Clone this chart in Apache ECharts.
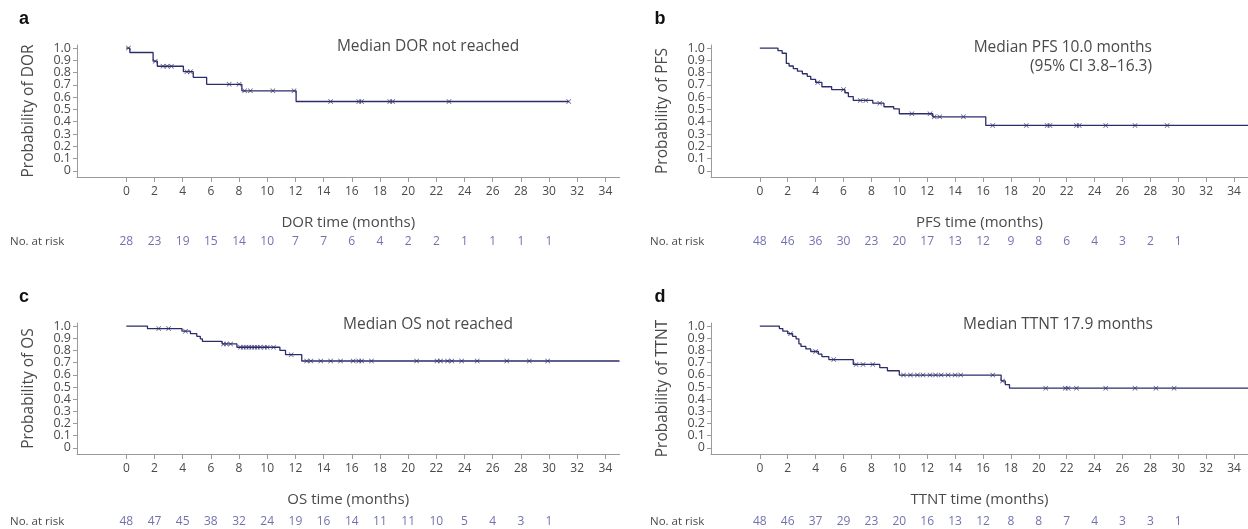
<!DOCTYPE html>
<html>
<head>
<meta charset="utf-8">
<script src="https://cdn.jsdelivr.net/npm/echarts@6/dist/echarts.min.js"></script>
<style>
  html, body { margin: 0; padding: 0; background: #fff; }
  #chart { width: 1248px; height: 529px; }
</style>
</head>
<body>
<div id="chart"></div>
<script>
// --- data ---
const xTicks = [0, 2, 4, 6, 8, 10, 12, 14, 16, 18, 20, 22, 24, 26, 28, 30, 32, 34];
const yTicks = [0, 0.1, 0.2, 0.3, 0.4, 0.5, 0.6, 0.7, 0.8, 0.9, 1.0];
const yLabelsEven = [0, 0.2, 0.4, 0.6, 0.8, 1.0];
const yLabelsOdd = [0.1, 0.3, 0.5, 0.7, 0.9];
const riskTimes = [0, 2, 4, 6, 8, 10, 12, 14, 16, 18, 20, 22, 24, 26, 28, 30];

// a: duration of response
const dorT = [0, 0.25, 1.9, 2.2, 4.05, 4.75, 5.7, 8.2, 12.05, 31.4];
const dorS = [1.0, 0.964, 0.893, 0.852, 0.808, 0.762, 0.705, 0.652, 0.565, 0.565];
const dorCensor = [0.15, 2.05, 2.6, 2.9, 3.2, 4.3, 4.55, 7.3, 8.0, 8.4, 8.8, 10.4, 11.9, 14.5, 16.5, 16.7, 18.7, 18.9, 22.9, 31.4];
const dorRisk = [28, 23, 19, 15, 14, 10, 7, 7, 6, 4, 2, 2, 1, 1, 1, 1];

// b: progression-free survival
const pfsT = [0, 1.3, 1.6, 1.9, 2.1, 2.4, 2.7, 3.05, 3.4, 3.65, 4.0, 4.45, 5.15, 6.1, 6.35, 6.7, 8.1, 8.9, 9.6, 10.0, 12.4, 16.2, 35];
const pfsS = [1.0, 0.979, 0.958, 0.875, 0.854, 0.833, 0.812, 0.791, 0.77, 0.745, 0.72, 0.685, 0.662, 0.636, 0.604, 0.574, 0.551, 0.522, 0.505, 0.465, 0.44, 0.37, 0.37];
const pfsCensor = [4.15, 6.0, 7.2, 7.6, 8.6, 10.9, 12.2, 12.5, 12.9, 14.6, 16.7, 19.1, 20.6, 20.8, 22.7, 22.9, 24.8, 26.9, 29.2];
const pfsRisk = [48, 46, 36, 30, 23, 20, 17, 13, 12, 9, 8, 6, 4, 3, 2, 1];

// c: overall survival
const osT = [0, 1.5, 3.95, 4.55, 5.0, 5.25, 5.4, 6.8, 7.85, 10.9, 11.3, 12.45, 35];
const osS = [1.0, 0.979, 0.958, 0.937, 0.916, 0.895, 0.874, 0.853, 0.826, 0.80, 0.765, 0.713, 0.713];
const osCensor = [2.3, 3.0, 4.2, 6.9, 7.1, 7.4, 8.1, 8.3, 8.5, 8.7, 8.9, 9.1, 9.3, 9.5, 9.8, 10.0, 10.45, 11.7, 12.8, 13.1, 13.8, 14.5, 15.2, 16.1, 16.5, 16.7, 17.4, 20.6, 22.05, 22.3, 22.8, 23.1, 23.8, 24.9, 27.0, 28.6, 29.9];
const osRisk = [48, 47, 45, 38, 32, 24, 19, 16, 14, 11, 11, 10, 5, 4, 3, 1];

// d: time to next treatment
const ttntT = [0, 1.4, 1.65, 2.0, 2.35, 2.6, 2.8, 2.95, 3.3, 3.65, 4.2, 4.45, 4.95, 6.7, 8.6, 9.15, 10.0, 17.3, 17.6, 17.9, 35];
const ttntS = [1.0, 0.979, 0.958, 0.937, 0.916, 0.895, 0.854, 0.833, 0.812, 0.791, 0.77, 0.749, 0.725, 0.685, 0.658, 0.633, 0.598, 0.55, 0.52, 0.49, 0.49];
const ttntCensor = [2.2, 4.0, 5.3, 6.9, 7.4, 8.1, 10.3, 10.8, 11.3, 11.7, 12.2, 12.6, 13.0, 13.5, 14.0, 14.4, 16.7, 17.4, 20.5, 21.9, 22.1, 22.7, 24.8, 26.9, 28.4, 29.7];
const ttntRisk = [48, 46, 37, 29, 23, 20, 16, 13, 12, 8, 8, 7, 4, 3, 3, 1];

// --- styling ---
const lineColor = '#2c2c6a';
const riskColor = '#4e4e9c';
const textColor = '#4a4a4a';
const axisColor = '#9a9a9a';
const fontFamily = "'Open Sans', 'DejaVu Sans', sans-serif";
const censorSymbol = 'path://M0,1L1,0L5,4L9,0L10,1L6,5L10,9L9,10L5,6L1,10L0,9L4,5Z';

const panels = [
  { key: 'a', T: dorT, S: dorS, C: dorCensor, risk: dorRisk, xName: 'DOR time (months)', yName: 'Probability of DOR',
    left: 77, top: 45, width: 542.5, height: 132, riskY: 242 },
  { key: 'b', T: pfsT, S: pfsS, C: pfsCensor, risk: pfsRisk, xName: 'PFS time (months)', yName: 'Probability of PFS',
    left: 711, top: 45, width: 546.7, height: 132, riskY: 242 },
  { key: 'c', T: osT, S: osS, C: osCensor, risk: osRisk, xName: 'OS time (months)', yName: 'Probability of OS',
    left: 77, top: 323, width: 542.5, height: 131, riskY: 522 },
  { key: 'd', T: ttntT, S: ttntS, C: ttntCensor, risk: ttntRisk, xName: 'TTNT time (months)', yName: 'Probability of TTNT',
    left: 711, top: 323, width: 546.7, height: 131, riskY: 522 }
];

// survival value of the step curve at time t (censor marks sit on the curve)
function survAt(T, S, t){
  let s = S[0];
  for (let i = 0; i < T.length; i++){ if (T[i] <= t) s = S[i]; }
  return s;
}

const yFmt = v => v === 0 ? '0' : v.toFixed(1);
const yLabelStyle = { color: textColor, fontSize: 12.5, fontFamily, margin: 6,
  showMinLabel: true, showMaxLabel: true, formatter: yFmt };

const grid = [], xAxis = [], yAxis = [], series = [];

panels.forEach((p) => {
  // main plot grid
  grid.push({ left: p.left, top: p.top, width: p.width, height: p.height });
  const gi = grid.length - 1;
  const xi = xAxis.length;
  xAxis.push({
    gridIndex: gi, type: 'value', min: -3.5, max: 35,
    name: p.xName, nameLocation: 'middle', nameGap: 38,
    nameTextStyle: { color: textColor, fontSize: 15, fontFamily },
    axisLine: { show: true, onZero: false, lineStyle: { color: axisColor, width: 1 } },
    axisTick: { show: true, length: 5, customValues: xTicks, lineStyle: { color: axisColor } },
    axisLabel: { customValues: xTicks, color: textColor, fontSize: 12, fontFamily, margin: 9,
      showMinLabel: true, showMaxLabel: true },
    splitLine: { show: false }
  });
  const yi = yAxis.length;
  yAxis.push({
    gridIndex: gi, type: 'value', position: 'left', min: -0.05, max: 1.025,
    name: p.yName, nameLocation: 'middle', nameGap: 40,
    nameTextStyle: { color: textColor, fontSize: 15.5, fontFamily },
    axisLine: { show: true, onZero: false, lineStyle: { color: axisColor, width: 1 } },
    axisTick: { show: true, length: 4, customValues: yTicks, lineStyle: { color: axisColor } },
    axisLabel: Object.assign({ customValues: yLabelsEven }, yLabelStyle),
    splitLine: { show: false }
  });
  // second label ring for the odd tenths (labels are packed too tightly for one axis)
  yAxis.push({
    gridIndex: gi, type: 'value', position: 'left', min: -0.05, max: 1.025,
    axisLine: { show: false, onZero: false }, axisTick: { show: false },
    axisLabel: Object.assign({ customValues: yLabelsOdd }, yLabelStyle),
    splitLine: { show: false }
  });
  series.push({
    type: 'line', xAxisIndex: xi, yAxisIndex: yi, step: 'end',
    data: p.T.map((t, k) => [t, p.S[k]]),
    showSymbol: false, symbol: 'none', silent: true, animation: false,
    lineStyle: { color: lineColor, width: 1.3 }
  });
  series.push({
    type: 'scatter', xAxisIndex: xi, yAxisIndex: yi,
    data: p.C.map(t => [t, survAt(p.T, p.S, t)]),
    symbol: censorSymbol, symbolSize: 5, silent: true, animation: false,
    itemStyle: { color: lineColor }
  });

  // number-at-risk row on its own hidden axes, same time scale
  grid.push({ left: p.left, top: p.riskY - 6, width: p.width, height: 12 });
  const ri = grid.length - 1;
  const rxi = xAxis.length, ryi = yAxis.length;
  xAxis.push({ gridIndex: ri, type: 'value', min: -3.5, max: 35, show: false });
  yAxis.push({ gridIndex: ri, type: 'value', min: 0, max: 1, show: false });
  series.push({
    type: 'scatter', xAxisIndex: rxi, yAxisIndex: ryi,
    data: riskTimes.map((t, k) => [t, 0.5, p.risk[k]]),
    symbolSize: 1, itemStyle: { color: 'rgba(0,0,0,0)' }, silent: true, animation: false,
    label: { show: true, position: 'inside', formatter: d => d.value[2],
      color: riskColor, fontSize: 12, fontFamily }
  });
});

const txt = (x, y, text, extra = {}) => ({
  type: 'text', x, y,
  style: Object.assign({ text, fill: textColor, font: `15.5px ${fontFamily}`, align: 'center', verticalAlign: 'middle' }, extra)
});
const letter = (x, y, t) => txt(x, y, t, { fill: '#111', font: "bold 18px 'Liberation Sans', Arial, sans-serif" });
const riskLabel = (x, y) => txt(x, y, 'No. at risk', { align: 'left', font: `11.5px ${fontFamily}` });

const graphic = [
  letter(24, 19, 'a'), letter(660, 19, 'b'), letter(24, 297, 'c'), letter(660, 297, 'd'),
  txt(428, 47, 'Median DOR not reached'),
  txt(1152, 48, 'Median PFS 10.0 months', { align: 'right' }),
  txt(1152, 67, '(95% CI 3.8–16.3)', { align: 'right' }),
  txt(428, 325, 'Median OS not reached'),
  txt(1058, 325, 'Median TTNT 17.9 months'),
  riskLabel(10, 242), riskLabel(650, 242), riskLabel(10, 522), riskLabel(650, 522)
];

const chart = echarts.init(document.getElementById('chart'), null, { renderer: 'canvas' });
chart.setOption({
  backgroundColor: '#fff',
  animation: false,
  textStyle: { fontFamily, color: textColor },
  grid, xAxis, yAxis, series, graphic
});
window.addEventListener('resize', () => chart.resize());
</script>
</body>
</html>
